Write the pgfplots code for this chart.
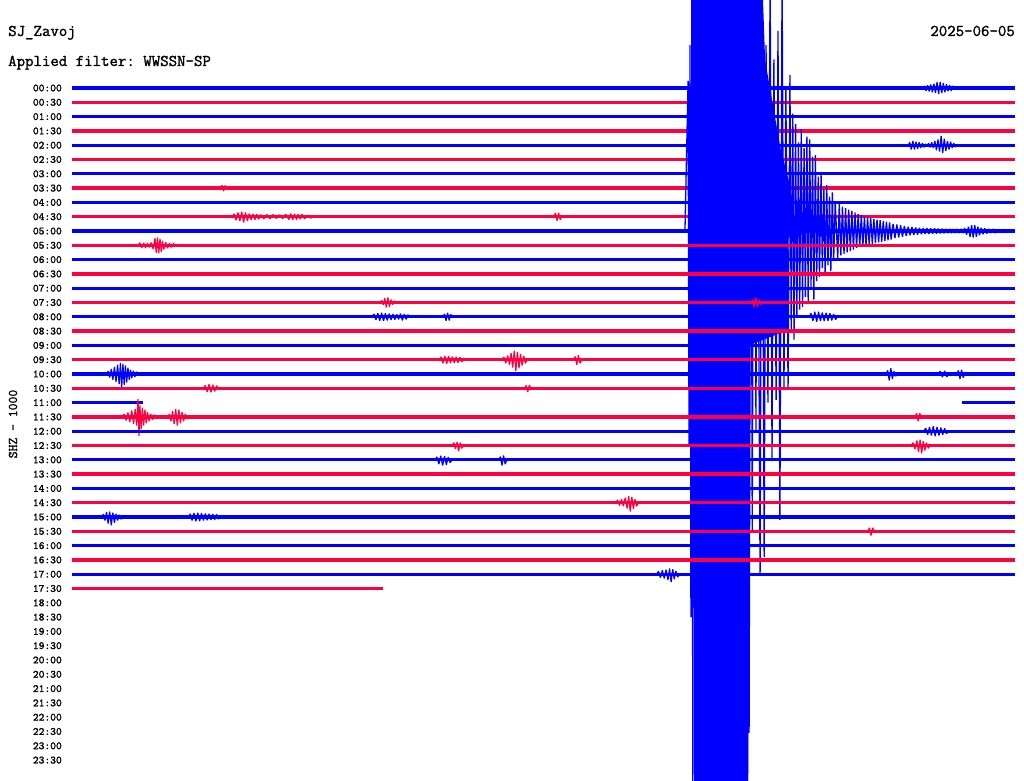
\documentclass[border=0pt]{standalone}
\usepackage{fontspec}
\newfontfamily\hmono{Latin Modern Mono}[FakeBold=1.5]
\usepackage{pgfplots}
\pgfplotsset{compat=1.18}
\definecolor{hblue}{RGB}{0,0,255}
\definecolor{hred}{RGB}{255,0,64}
\pgfplotsset{
  bl/.style={hblue, line width=3.3pt},
  rd/.style={hred, line width=3.3pt},
  bw/.style={hblue, line width=1.2pt, line join=bevel},
  rw/.style={hred, line width=1.2pt, line join=bevel},
}
\frenchspacing
\begin{document}
\begin{tikzpicture}
\path[use as bounding box, fill=white] (0,0) rectangle (1024pt,780pt);
\begin{axis}[
  at={(72pt,0pt)}, anchor=south west, scale only axis,
  width=943pt, height=780pt,
  xmin=0, xmax=30, ymin=-6.154, ymax=48.392, y dir=reverse,
  axis line style={draw=none}, major tick style={draw=none},
  xtick=\empty,
  ytick={0,...,47},
  yticklabels={00:00,00:30,01:00,01:30,02:00,02:30,03:00,03:30,04:00,04:30,05:00,05:30,06:00,06:30,07:00,07:30,08:00,08:30,09:00,09:30,10:00,10:30,11:00,11:30,12:00,12:30,13:00,13:30,14:00,14:30,15:00,15:30,16:00,16:30,17:00,17:30,18:00,18:30,19:00,19:30,20:00,20:30,21:00,21:30,22:00,22:30,23:00,23:30},
  yticklabel style={font=\hmono\fontsize{11}{11}\selectfont, anchor=east, inner sep=0pt, xshift=-10pt},
  clip=true,
]
% rows 0-9
\addplot[bl] coordinates {(0,0) (30,0)};
\addplot[bw] coordinates {(27.07,0) (27.12,-0.15) (27.17,0.2) (27.22,-0.2) (27.27,0.25) (27.32,-0.25) (27.37,0.3) (27.42,-0.3) (27.47,0.35) (27.52,-0.4) (27.57,0.42) (27.62,-0.42) (27.67,0.35) (27.72,-0.35) (27.77,0.3) (27.82,-0.28) (27.87,0.22) (27.92,-0.2) (27.97,0.18) (28.02,-0.15) (28.07,0.12) (28.16,0)};
\addplot[rd] coordinates {(0,1) (30,1)};
\addplot[bl] coordinates {(0,2) (30,2)};
\addplot[rd] coordinates {(0,3) (30,3)};
\addplot[bl] coordinates {(0,4) (30,4)};
\addplot[bw] coordinates {(26.60,4) (26.65,3.8) (26.70,4.3) (26.75,3.7) (26.80,4.3) (26.85,3.75) (26.90,4.25) (26.95,3.8) (27.00,4.2) (27.05,3.85) (27.10,4.15) (27.15,3.9) (27.20,4.1) (27.25,3.85) (27.30,4.15) (27.35,3.8) (27.40,4.2) (27.45,3.7) (27.50,4.35) (27.55,3.6) (27.60,4.45) (27.65,3.35) (27.70,4.55) (27.75,3.55) (27.80,4.4) (27.85,3.7) (27.90,4.3) (27.95,3.75) (28.00,4.2) (28.05,3.85) (28.10,4.12) (28.16,4)};
\addplot[rd] coordinates {(0,5) (30,5)};
\addplot[bl] coordinates {(0,6) (30,6)};
\addplot[rd] coordinates {(0,7) (30,7)};
\addplot[rw] coordinates {(4.72,7) (4.77,6.8) (4.82,7.22) (4.87,6.82) (4.92,7)};
\addplot[bl] coordinates {(0,8) (30,8)};
\addplot[rd] coordinates {(0,9) (30,9)};
\addplot[rw] coordinates {(5.10,9) (5.16,8.8) (5.22,9.25) (5.28,8.7) (5.34,9.3) (5.40,8.65) (5.46,9.4) (5.52,8.7) (5.58,9.3) (5.64,8.78) (5.70,9.22) (5.76,8.8) (5.82,9.2) (5.88,8.82) (5.94,9.18) (6.00,8.85) (6.10,9.15) (6.20,8.85) (6.30,9.15) (6.40,8.85) (6.50,9.12) (6.60,8.86) (6.70,9.14) (6.80,8.82) (6.90,9.2) (6.96,8.78) (7.02,9.22) (7.08,8.8) (7.14,9.2) (7.20,8.82) (7.26,9.18) (7.32,8.82) (7.40,9.15) (7.50,8.88) (7.60,9.1) (7.67,9)};
\addplot[rw] coordinates {(15.33,9) (15.38,8.75) (15.43,9.28) (15.48,8.72) (15.53,9.2) (15.58,9)};
% row 10 with the large event
\addplot[bl] coordinates {(0,10) (30,10)};
% saturated part of the event (clipped amplitude)
\addplot[fill=hblue, draw=none] coordinates {(19.60,-8.25) (21.95,-8.25) (22.05,-1.96) (22.27,0.84) (22.55,4.34) (22.80,6.43) (22.95,8.18) (22.90,10) (22.78,10.63) (22.78,16.92) (21.57,17.97) (21.51,49.8) (19.79,49.8) (19.79,28.81) (19.66,19.02) (19.60,10) (19.60,0.84) (19.72,-0.91) (19.72,-8.25)} -- cycle;
\addplot[bw, line width=1.3pt] coordinates {(19.50,10) (19.60,-0.5) (19.63,25) (19.66,-3) (19.69,37) (19.72,-8) (19.75,50) (19.78,-8) (19.81,39) (19.84,-8) (19.87,50) (19.90,-8) (19.93,40) (19.96,-8) (19.99,50) (20.02,-8) (20.05,50) (20.08,-8) (20.11,50) (20.14,-8) (20.17,50) (20.20,-8) (20.23,50) (20.26,-8) (20.29,44) (20.32,-8) (20.35,36) (20.38,-8) (20.41,35.5) (20.44,-8) (20.47,50) (20.50,-8) (20.53,39) (20.56,-8) (20.59,50) (20.62,-8) (20.65,50) (20.68,-8) (20.71,46) (20.74,-8) (20.77,50) (20.80,-8) (20.83,50) (20.86,-8) (20.89,50) (20.92,-8) (20.95,50) (20.98,-8) (21.01,50) (21.04,-8) (21.07,50) (21.10,-8) (21.13,50) (21.16,-8) (21.19,50) (21.22,-8) (21.25,50) (21.28,-8) (21.31,50) (21.34,-8) (21.37,50) (21.40,-8) (21.43,47) (21.46,-8) (21.49,50)
(21.51,-8) (21.54,45.1) (21.60,-8) (21.64,30.9) (21.70,-8) (21.76,24) (21.79,-8) (21.89,34.1) (21.95,-7) (22.02,32.8) (22.08,-3) (22.14,22) (22.21,-8) (22.27,26) (22.33,-2) (22.40,21.8) (22.46,-4) (22.52,30.2) (22.59,-8) (22.65,21.1) (22.71,0) (22.78,21.1)
(22.84,-0.9) (22.88,17) (22.93,1.8) (22.97,17.6) (23.02,2.5) (23.06,16) (23.11,3.8) (23.15,15.5) (23.20,2.9) (23.24,15.3) (23.29,4.2) (23.33,14.6) (23.38,3.4) (23.42,14.9) (23.47,3.6) (23.51,13.9) (23.56,4.8) (23.60,14.8) (23.65,4.7) (23.69,13.5) (23.74,6.2) (23.78,13.2) (23.83,6) (23.87,12.6) (23.92,7.1) (23.96,13.1) (24.01,6.8) (24.05,12.4) (24.10,7.6) (24.14,12.8) (24.19,7.3) (24.23,12.1) (24.28,8.0)
(24.36,11.9) (24.41,8.1) (24.46,11.7) (24.51,8.3) (24.56,11.6) (24.61,8.4) (24.66,11.5) (24.71,8.5) (24.76,11.4) (24.81,8.6) (24.86,11.3) (24.91,8.7) (24.96,11.2) (25.01,8.8) (25.06,11.1) (25.11,8.9) (25.16,11.1) (25.21,9.0) (25.26,11.0) (25.31,9.05) (25.36,10.95) (25.41,9.1) (25.46,10.9) (25.51,9.15) (25.56,10.85) (25.61,9.2) (25.66,10.8) (25.71,9.25) (25.76,10.75) (25.81,9.3) (25.86,10.7) (25.91,9.35) (25.96,10.65) (26.01,9.4) (26.06,10.6)
(26.12,9.5) (26.18,10.5) (26.24,9.55) (26.30,10.45) (26.36,9.6) (26.42,10.4) (26.48,9.65) (26.54,10.35) (26.60,9.7) (26.66,10.3) (26.72,9.72) (26.78,10.28) (26.84,9.75) (26.90,10.25) (26.96,9.78) (27.02,10.22) (27.08,9.8) (27.14,10.2) (27.20,9.8) (27.26,10.2) (27.32,9.82) (27.38,10.18) (27.44,9.82) (27.50,10.18) (27.56,9.84) (27.62,10.16) (27.68,9.84) (27.74,10.16) (27.80,9.85) (27.86,10.15) (27.92,9.85) (27.98,10.15) (28.04,9.86) (28.10,10.14) (28.16,9.86) (28.22,10.14) (28.28,9.86) (28.34,10.14) (28.40,9.8) (28.46,10.25) (28.52,9.7) (28.57,10.4) (28.62,9.6) (28.67,10.45) (28.72,9.6) (28.77,10.4) (28.82,9.7) (28.87,10.3) (28.92,9.78) (28.98,10.22) (29.04,9.82) (29.10,10.18) (29.16,9.85) (29.22,10.15) (29.30,9.86) (29.38,10.14) (29.46,9.88) (29.54,10.12) (29.62,9.88) (29.70,10.12) (29.80,9.9) (29.90,10.1) (30,10)};
% rows 11-35
\addplot[rd] coordinates {(0,11) (30,11)};
\addplot[rw] coordinates {(2.10,11) (2.16,10.82) (2.22,11.18) (2.28,10.82) (2.34,11.18) (2.40,10.85) (2.46,11.15) (2.52,10.8) (2.58,11.25) (2.64,10.5) (2.68,11.55) (2.72,10.44) (2.76,11.56) (2.80,10.55) (2.84,11.45) (2.88,10.7) (2.92,11.3) (2.98,10.78) (3.04,11.2) (3.10,10.85) (3.16,11.15) (3.22,10.88) (3.30,11)};
\addplot[bl] coordinates {(0,12) (30,12)};
\addplot[rd] coordinates {(0,13) (30,13)};
\addplot[bl] coordinates {(0,14) (30,14)};
\addplot[rd] coordinates {(0,15) (30,15)};
\addplot[rw] coordinates {(9.80,15) (9.85,14.85) (9.90,15.15) (9.95,14.7) (10.00,15.35) (10.05,14.65) (10.10,15.3) (10.15,14.8) (10.20,15.15) (10.25,14.88) (10.30,15)};
\addplot[rw] coordinates {(21.60,15) (21.65,14.8) (21.70,15.3) (21.75,14.65) (21.80,15.3) (21.85,14.8) (21.90,15.15) (21.95,15)};
\addplot[bl] coordinates {(0,16) (30,16)};
\addplot[bw] coordinates {(9.55,16) (9.61,15.8) (9.67,16.22) (9.73,15.75) (9.79,16.28) (9.85,15.72) (9.91,16.3) (9.97,15.75) (10.03,16.25) (10.09,15.78) (10.15,16.22) (10.21,15.8) (10.27,16.2) (10.33,15.82) (10.39,16.18) (10.45,15.78) (10.51,16.25) (10.57,15.8) (10.63,16.18) (10.69,15.85) (10.75,16)};
\addplot[bw] coordinates {(11.80,16) (11.85,15.8) (11.90,16.28) (11.95,15.72) (12.00,16.25) (12.05,15.82) (12.10,16)};
\addplot[bw] coordinates {(23.45,16) (23.51,15.75) (23.57,16.3) (23.63,15.65) (23.69,16.35) (23.75,15.65) (23.81,16.3) (23.87,15.7) (23.93,16.3) (23.99,15.72) (24.05,16.28) (24.11,15.75) (24.17,16.25) (24.23,15.8) (24.29,16.2) (24.35,16)};
\addplot[rd] coordinates {(0,17) (30,17)};
\addplot[bl] coordinates {(0,18) (30,18)};
\addplot[rd] coordinates {(0,19) (30,19)};
\addplot[rw] coordinates {(11.68,19) (11.74,18.8) (11.80,19.25) (11.86,18.75) (11.92,19.28) (11.98,18.74) (12.04,19.25) (12.10,18.78) (12.16,19.22) (12.22,18.8) (12.28,19.2) (12.34,18.82) (12.40,19.15) (12.46,19)};
\addplot[rw] coordinates {(13.68,19) (13.74,18.8) (13.80,19.25) (13.86,18.7) (13.92,19.35) (13.97,18.55) (14.02,19.55) (14.07,18.37) (14.12,19.77) (14.17,18.45) (14.22,19.6) (14.27,18.6) (14.32,19.4) (14.37,18.72) (14.42,19.25) (14.48,19)};
\addplot[rw] coordinates {(15.96,19) (16.01,18.78) (16.06,19.35) (16.11,18.68) (16.16,19.25) (16.22,19)};
\addplot[bl] coordinates {(0,20) (30,20)};
\addplot[bw] coordinates {(1.10,20) (1.15,19.8) (1.20,20.25) (1.25,19.65) (1.30,20.4) (1.35,19.5) (1.40,20.55) (1.45,19.35) (1.50,20.7) (1.54,19.23) (1.58,20.98) (1.62,19.3) (1.66,20.75) (1.70,19.4) (1.74,20.6) (1.78,19.55) (1.82,20.4) (1.86,19.7) (1.90,20.3) (1.95,19.78) (2.00,20.2) (2.05,19.85) (2.12,20)};
\addplot[bw] coordinates {(25.90,20) (25.95,19.75) (26.00,20.45) (26.05,19.6) (26.10,20.35) (26.15,19.8) (26.20,20.15) (26.26,20)};
\addplot[bw] coordinates {(27.55,20) (27.62,19.8) (27.69,20.22) (27.76,19.78) (27.83,20.2) (27.90,20)};
\addplot[bw] coordinates {(28.15,20) (28.20,19.75) (28.25,20.35) (28.30,19.7) (28.35,20.25) (28.40,20)};
\addplot[rd] coordinates {(0,21) (30,21)};
\addplot[rw] coordinates {(4.18,21) (4.24,20.8) (4.30,21.25) (4.36,20.72) (4.42,21.28) (4.48,20.75) (4.54,21.22) (4.60,20.82) (4.66,21)};
\addplot[rw] coordinates {(14.40,21) (14.45,20.8) (14.50,21.25) (14.55,20.78) (14.60,21)};
\addplot[bl] coordinates {(0,22) (2.26,22)};
\addplot[bl] coordinates {(28.31,22) (30,22)};
\addplot[rd] coordinates {(0,23) (30,23)};
\addplot[rw] coordinates {(1.60,23) (1.66,22.8) (1.72,23.25) (1.78,22.7) (1.84,23.35) (1.90,22.55) (1.96,23.5) (2.01,22.45) (2.06,23.6) (2.10,21.75) (2.13,24.33) (2.16,22.2) (2.20,23.85) (2.24,22.35) (2.28,23.6) (2.32,22.5) (2.36,23.45) (2.40,22.65) (2.45,23.3) (2.50,22.78) (2.56,23.2) (2.62,22.85) (2.70,23.12) (2.80,22.9) (2.90,23)};
\addplot[rw] coordinates {(3.05,23) (3.10,22.8) (3.15,23.3) (3.20,22.6) (3.25,23.5) (3.30,22.45) (3.35,23.6) (3.40,22.5) (3.45,23.45) (3.50,22.65) (3.55,23.3) (3.60,22.8) (3.66,23.15) (3.72,23)};
\addplot[rw] coordinates {(26.82,23) (26.87,22.75) (26.92,23.3) (26.97,22.75) (27.02,23)};
\addplot[bl] coordinates {(0,24) (30,24)};
\addplot[bw] coordinates {(27.10,24) (27.16,23.78) (27.22,24.25) (27.28,23.7) (27.34,24.3) (27.40,23.65) (27.46,24.35) (27.52,23.7) (27.58,24.3) (27.64,23.75) (27.70,24.25) (27.76,23.8) (27.82,24.18) (27.88,24)};
\addplot[rd] coordinates {(0,25) (30,25)};
\addplot[rw] coordinates {(12.10,25) (12.15,24.8) (12.20,25.25) (12.25,24.75) (12.30,25.4) (12.35,24.8) (12.40,25.2) (12.46,25)};
\addplot[rw] coordinates {(26.70,25) (26.76,24.8) (26.82,25.25) (26.88,24.65) (26.93,25.45) (26.98,24.6) (27.03,25.55) (27.08,24.7) (27.13,25.35) (27.18,24.8) (27.24,25.2) (27.30,25)};
\addplot[bl] coordinates {(0,26) (30,26)};
\addplot[bw] coordinates {(11.55,26) (11.61,25.8) (11.67,26.3) (11.73,25.72) (11.79,26.4) (11.85,25.75) (11.91,26.35) (11.97,25.8) (12.03,26.2) (12.09,26)};
\addplot[bw] coordinates {(13.58,26) (13.63,25.78) (13.68,26.4) (13.73,25.7) (13.78,26.3) (13.84,26)};
\addplot[rd] coordinates {(0,27) (30,27)};
\addplot[bl] coordinates {(0,28) (30,28)};
\addplot[rd] coordinates {(0,29) (30,29)};
\addplot[rw] coordinates {(17.30,29) (17.36,28.8) (17.42,29.2) (17.48,28.75) (17.54,29.25) (17.60,28.65) (17.66,29.4) (17.71,28.55) (17.76,29.62) (17.81,28.6) (17.86,29.45) (17.91,28.75) (17.96,29.25) (18.02,29)};
\addplot[bl] coordinates {(0,30) (30,30)};
\addplot[bw] coordinates {(0.95,30) (1.00,29.8) (1.05,30.25) (1.10,29.65) (1.15,30.45) (1.20,29.62) (1.25,30.58) (1.30,29.7) (1.35,30.4) (1.40,29.78) (1.45,30.25) (1.50,29.85) (1.56,30.15) (1.62,30)};
\addplot[bw] coordinates {(3.70,30) (3.76,29.78) (3.82,30.25) (3.88,29.72) (3.94,30.3) (4.00,29.7) (4.06,30.3) (4.12,29.72) (4.18,30.25) (4.24,29.75) (4.30,30.22) (4.36,29.78) (4.42,30.2) (4.48,29.8) (4.54,30.18) (4.60,29.82) (4.66,30.15) (4.72,30)};
\addplot[rd] coordinates {(0,31) (30,31)};
\addplot[rw] coordinates {(25.32,31) (25.37,30.75) (25.42,31.3) (25.47,30.75) (25.52,31)};
\addplot[bl] coordinates {(0,32) (30,32)};
\addplot[rd] coordinates {(0,33) (30,33)};
\addplot[bl] coordinates {(0,34) (30,34)};
\addplot[bw] coordinates {(18.60,34) (18.66,33.8) (18.72,34.25) (18.78,33.72) (18.84,34.3) (18.90,33.68) (18.96,34.4) (19.01,33.6) (19.06,34.55) (19.11,33.65) (19.16,34.35) (19.21,33.78) (19.27,34.2) (19.33,34)};
\addplot[rd] coordinates {(0,35) (9.89,35)};
\end{axis}
\node[anchor=base west, inner sep=0pt, font=\hmono\fontsize{16.4}{18}\selectfont] at (8pt,744pt) {SJ\_Zavoj};
\node[anchor=base east, inner sep=0pt, font=\hmono\fontsize{16.4}{18}\selectfont] at (1015pt,744pt) {2025-06-05};
\node[anchor=base west, inner sep=0pt, font=\hmono\fontsize{16.4}{18}\selectfont] at (8pt,714pt) {Applied filter: WWSSN-SP};
\node[rotate=90, inner sep=0pt, font=\hmono\fontsize{13.3}{14}\selectfont] at (13pt,356pt) {SHZ - 1000};
\end{tikzpicture}
\end{document}
